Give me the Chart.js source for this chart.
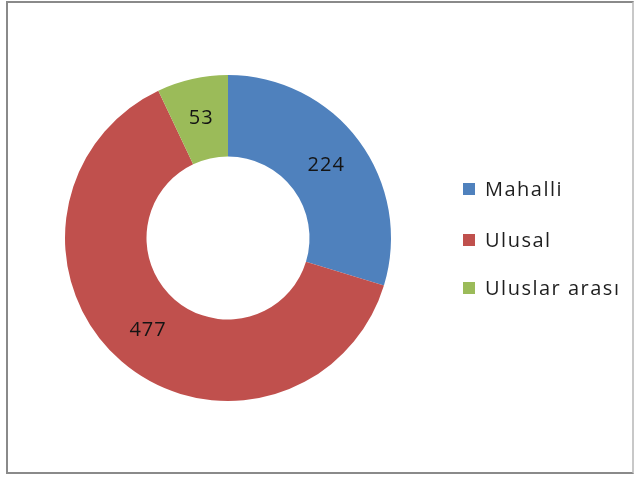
<!DOCTYPE html>
<html>
<head>
<meta charset="utf-8">
<script src="https://cdn.jsdelivr.net/npm/chart.js@4"></script>
<style>
    body { margin: 0; background: #fff; }
    #frame {
        position: absolute; left: 6px; top: 1px; width: 624px; height: 469px;
        border: 2px solid #8a8a8a; border-right-color: #c8c8c8;
    }
    #c { position: absolute; left: 0; top: 0; }
</style>
</head>
<body>
<div id="frame"></div>
<canvas id="c" width="635" height="477"></canvas>
<script>
var labels = ['Mahalli', 'Ulusal', 'Uluslar arası'];
var values = [224, 477, 53];
var colors = ['#4F81BD', '#C0504D', '#9BBB59'];

var fontName = '"Open Sans", "Noto Sans", sans-serif';

/* value labels in the middle of each ring piece */
var valueLabels = {
    id: 'valueLabels',
    afterDatasetsDraw: function (chart) {
        var ctx = chart.ctx;
        var arcs = chart.getDatasetMeta(0).data;
        ctx.save();
        ctx.font = '20px ' + fontName;
        ctx.fillStyle = '#141414';
        ctx.textAlign = 'center';
        ctx.textBaseline = 'middle';
        ctx.letterSpacing = '1px';
        arcs.forEach(function (arc, i) {
            var p = arc.tooltipPosition();
            ctx.fillText(values[i], p.x, p.y);
        });
        ctx.restore();
    }
};

/* legend on the right, drawn like the office one */
var sideLegend = {
    id: 'sideLegend',
    afterDraw: function (chart) {
        var ctx = chart.ctx;
        var rows = [189, 240, 288];
        ctx.save();
        ctx.font = '20px ' + fontName;
        ctx.textBaseline = 'middle';
        ctx.letterSpacing = '1.5px';
        labels.forEach(function (l, i) {
            ctx.fillStyle = colors[i];
            ctx.fillRect(463, rows[i] - 6, 12, 12);
            ctx.fillStyle = '#1e1e1e';
            ctx.fillText(l, 485, rows[i] + 1);
        });
        ctx.restore();
    }
};

var ctx = document.getElementById('c').getContext('2d');
var chart = new Chart(ctx, {
    type: 'doughnut',
    data: {
        labels: labels,
        datasets: [{
            data: values,
            backgroundColor: colors,
            borderWidth: 0
        }]
    },
    options: {
        responsive: false,
        animation: false,
        cutout: '50%',
        layout: { padding: { left: 65, right: 244, top: 75, bottom: 76 } },
        plugins: {
            legend: { display: false },
            tooltip: { enabled: false }
        }
    },
    plugins: [valueLabels, sideLegend]
});
</script>
</body>
</html>
